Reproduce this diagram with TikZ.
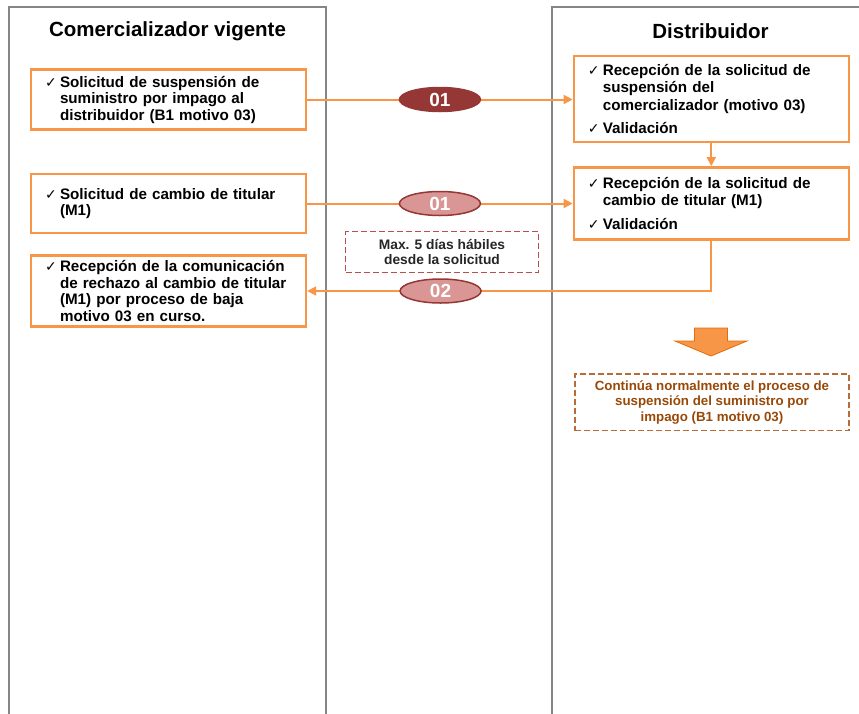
\documentclass[tikz,border=0pt]{standalone}
\usepackage{fontspec}
\setmainfont{Liberation Sans}
\newfontfamily\symfont{DejaVu Sans}
\usepackage{xcolor}
\usetikzlibrary{arrows.meta, positioning, calc, shapes.geometric}

\definecolor{laneGray}{HTML}{858585}
\definecolor{actOrange}{HTML}{F79646}
\definecolor{arrowEdge}{HTML}{E46C0A}
\definecolor{msgDark}{HTML}{953735}
\definecolor{msgLight}{HTML}{D99694}
\definecolor{noteRed}{HTML}{B9504D}
\definecolor{noteBrown}{HTML}{984807}
\definecolor{noteEdge}{HTML}{B96A35}

% item with a check mark and hanging lines
\newcommand{\chkitem}[1]{\noindent\hangindent=15pt\hangafter=1%
  \makebox[15pt][l]{\symfont\mdseries\fontsize{14pt}{14pt}\selectfont ✓}#1\par}

\begin{document}
\begin{tikzpicture}[
  x=1pt, y=-1pt,
  every node/.style={font=\bfseries},
  lanetitle/.style={font=\fontsize{20.5pt}{24pt}\selectfont\bfseries},
  laneline/.style={draw=laneGray, line width=2.2pt, line join=miter},
  actbox/.style={rectangle, draw=actOrange, line width=2.4pt, fill=white,
    text width=247pt, inner xsep=14pt, inner ysep=0pt, align=left,
    font=\fontsize{15.2pt}{16.5pt}\selectfont\bfseries},
  distbox/.style={actbox, font=\fontsize{15.2pt}{17.5pt}\selectfont\bfseries},
  msg/.style={ellipse, draw=msgDark, line width=1.5pt, fill=msgDark, text=white,
    minimum width=81pt, minimum height=24pt, inner sep=0pt,
    font=\fontsize{19pt}{19pt}\selectfont\bfseries},
  msglight/.style={msg, fill=msgLight},
  flow/.style={draw=actOrange, line width=2pt, -{Triangle[length=9pt, width=9pt]}},
  notebox/.style={rectangle, draw=noteRed, line width=1.2pt, dash pattern=on 6pt off 3pt,
    align=center, inner sep=0pt, text=black!85,
    font=\fontsize{13.8pt}{15.7pt}\selectfont\bfseries},
]
  \useasboundingbox (0,0) rectangle (859,713);

  % lanes
  \draw[laneline] (9,716) -- (9,7) -- (326,7) -- (326,716);
  \draw[laneline] (552,716) -- (552,7) -- (864,7);

  \node[lanetitle] (tCom) at (167.5,31) {Comercializador vigente};
  \node[lanetitle] (tDis) at (710.5,31) {Distribuidor};

  % comercializador
  \node[actbox, minimum height=60pt] (cSusp) at (168.5,99.5)
    {\chkitem{Solicitud de suspensión de\newline suministro por impago al\newline distribuidor (B1 motivo 03)}};
  \node[actbox, minimum height=58.6pt] (cCamb) at (168.5,203.5)
    {\chkitem{Solicitud de cambio de titular\newline (M1)}};
  \node[actbox, minimum height=70.7pt] (cRech) at (168.5,291)
    {\chkitem{Recepción de la comunicación\newline de rechazo al cambio de titular\newline (M1) por proceso de baja\newline motivo 03 en curso.}};

  % distribuidor
  \node[distbox, minimum height=85.7pt] (dSusp) at (711.3,98.9)
    {\chkitem{Recepción de la solicitud de\newline suspensión del\newline comercializador (motivo 03)}\vspace{6pt}\chkitem{Validación}};
  \node[distbox, minimum height=72pt] (dCamb) at (711.3,203.3)
    {\chkitem{Recepción de la solicitud de\newline cambio de titular (M1)}\vspace{6pt}\chkitem{Validación}};

  % messages
  \draw[flow] (cSusp.east) -- node[msg] (m01a) {01} (cSusp.east -| dSusp.west);
  \draw[flow] (cCamb.east) -- node[msglight] (m01b) {01} (cCamb.east -| dCamb.west);
  \draw[flow] (dSusp) -- (dCamb);
  \draw[flow] (dCamb.south) |- node[msglight, pos=0.835] (m02) {02} (cRech.east);

  \node[notebox, minimum width=192.6pt, minimum height=40.6pt] (nPlazo) at (442,252)
    {Max. 5 días hábiles\\desde la solicitud};

  % block arrow
  \draw[draw=arrowEdge, fill=actOrange, line width=0.8pt]
    (694.5,328) -- (727.5,328) -- (727.5,341) -- (747,341) -- (711,356)
    -- (675,341) -- (694.5,341) -- cycle;

  \node[notebox, draw=noteEdge, text=noteBrown, minimum width=274pt, minimum height=56.7pt,
    font=\fontsize{13.3pt}{15.5pt}\selectfont\bfseries] (nSigue) at (712,402.3)
    {Continúa normalmente el proceso de\\suspensión del suministro por\\impago (B1 motivo 03)};
\end{tikzpicture}
\end{document}
